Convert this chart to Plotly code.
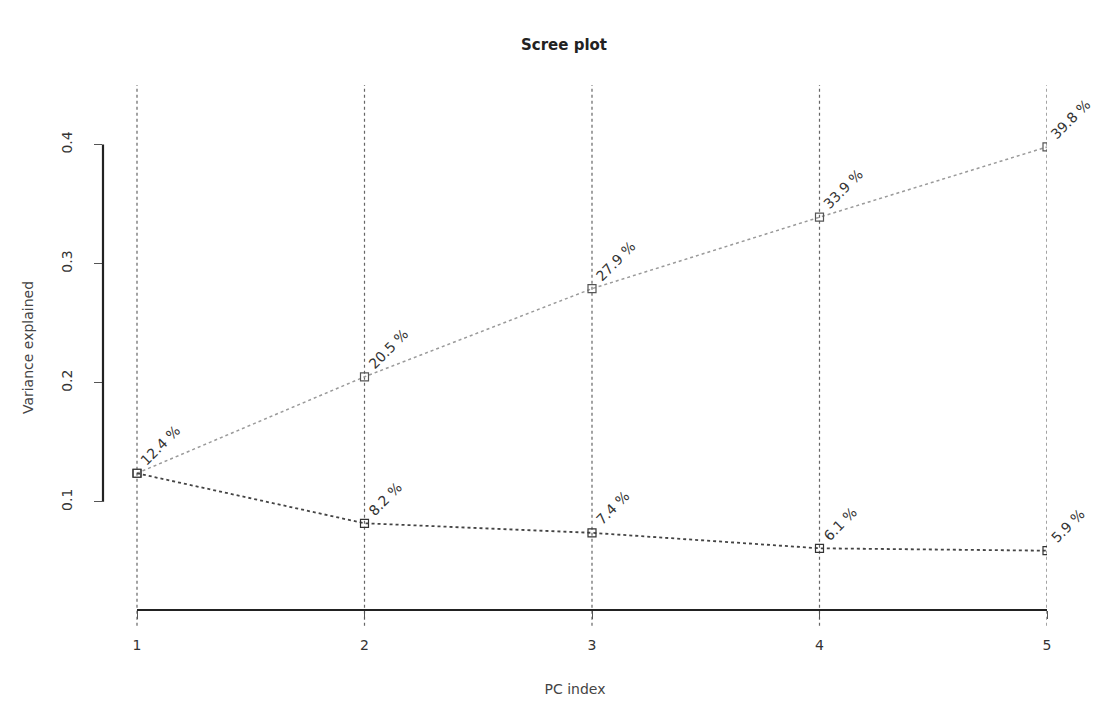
import plotly.graph_objects as go

pc_index = [1, 2, 3, 4, 5]
variance = [0.124, 0.082, 0.074, 0.061, 0.059]
cumulative = [0.124, 0.205, 0.279, 0.339, 0.398]
var_labels = ["12.4 %", "8.2 %", "7.4 %", "6.1 %", "5.9 %"]
cum_labels = ["12.4 %", "20.5 %", "27.9 %", "33.9 %", "39.8 %"]
y_ticks = [0.1, 0.2, 0.3, 0.4]

FONT = "DejaVu Sans"
fig = go.Figure()

fig.add_trace(go.Scatter(
    x=pc_index, y=cumulative, mode="lines+markers",
    line=dict(color="#9a9a9a", width=1.5, dash="dot"),
    marker=dict(symbol="square-open", size=8, color="#555555", line=dict(width=1.2)),
    showlegend=False, hoverinfo="skip"))
fig.add_trace(go.Scatter(
    x=pc_index, y=variance, mode="lines+markers",
    line=dict(color="#444444", width=1.8, dash="dot"),
    marker=dict(symbol="square-open", size=8, color="#333333", line=dict(width=1.2)),
    showlegend=False, hoverinfo="skip"))

for xs, ys, labs in [(pc_index, cumulative, cum_labels), (pc_index[1:], variance[1:], var_labels[1:])]:
    for x, y, t in zip(xs, ys, labs):
        fig.add_annotation(x=x, y=y, text=t, showarrow=False, textangle=-45,
                           xanchor="left", yanchor="bottom", xshift=-2, yshift=2,
                           font=dict(family=FONT, size=14, color="#333333"))

# vertical dotted guide lines, slightly extending below the axis
for x in pc_index:
    fig.add_shape(type="line", xref="x", yref="paper", x0=x, x1=x, y0=-0.03, y1=1,
                  line=dict(color="#666666", width=1.2, dash="dot"), layer="below")

# R-style axis lines spanning ticks only
fig.add_shape(type="line", xref="x", yref="paper", x0=1, x1=5, y0=0, y1=0,
              line=dict(color="#222222", width=2.2))
fig.add_shape(type="line", xref="paper", yref="y", x0=0, x1=0, y0=0.1, y1=0.4,
              line=dict(color="#222222", width=2.2))

fig.update_layout(
    width=1112, height=712,
    margin=dict(l=95, r=73, t=77, b=110),
    paper_bgcolor="white", plot_bgcolor="white",
    title=dict(text="<b>Scree plot</b>", x=0.5, xanchor="center", y=0.948, yanchor="middle",
               font=dict(family=FONT, size=15, color="#222222")),
    font=dict(family=FONT, size=14, color="#333333"),
)
fig.update_xaxes(
    range=[1 - 34 / 227.5, 5], tickvals=pc_index, ticktext=[str(v) for v in pc_index],
    showline=False, zeroline=False, ticks="outside", ticklen=8, tickcolor="#555555",
    showgrid=False,
    ticklabelstandoff=14,
    title=dict(text="PC index", standoff=32, font=dict(family=FONT, size=14, color="#444444")))
fig.update_yaxes(
    range=[0.0092, 0.450], tickvals=y_ticks, ticktext=[f"{v:.1f}" for v in y_ticks],
    tickangle=-90, showline=False, zeroline=False, showgrid=False,
    ticks="outside", ticklen=8, tickcolor="#555555", ticklabelstandoff=16,
    title=dict(text="Variance explained", standoff=22, font=dict(family=FONT, size=14, color="#444444")))

fig.write_html("out.html")
